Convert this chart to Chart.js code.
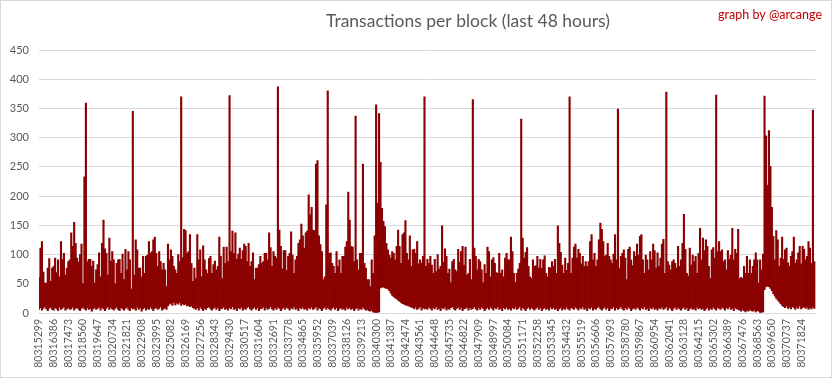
<!DOCTYPE html>
<html>
<head>
<meta charset="utf-8">
<script src="https://cdn.jsdelivr.net/npm/chart.js@4/dist/chart.umd.min.js"></script>
<style>
    html, body { margin: 0; padding: 0; background: #ffffff; }
    canvas { display: block; }
</style>
</head>
<body>
<canvas id="txChart" width="833" height="379"></canvas>
<script>
// block numbers shown under the axis (one every 1087 blocks)
const tickLabels = [
    "80315299", "80316386", "80317473", "80318560", "80319647", "80320734", "80321821", "80322908",
    "80323995", "80325082", "80326169", "80327256", "80328343", "80329430", "80330517", "80331604",
    "80332691", "80333778", "80334865", "80335952", "80337039", "80338126", "80339213", "80340300",
    "80341387", "80342474", "80343561", "80344648", "80345735", "80346822", "80347909", "80348997",
    "80350084", "80351171", "80352258", "80353345", "80354432", "80355519", "80356606", "80357693",
    "80358780", "80359867", "80360954", "80362041", "80363128", "80364215", "80365302", "80366389",
    "80367476", "80368563", "80369650", "80370737", "80371824"
];
const samplesPerTick = 10;

// highest tx count in each slice of ~109 blocks
const txHigh = [
    61, 111, 122, 70, 51, 51, 77, 93, 54, 77,
    80, 94, 69, 91, 62, 122, 92, 102, 65, 77,
    88, 91, 137, 114, 155, 119, 94, 87, 100, 118,
    50, 233, 359, 88, 92, 92, 80, 89, 51, 74,
    83, 103, 62, 119, 159, 110, 102, 65, 128, 89,
    105, 91, 50, 85, 91, 92, 68, 101, 57, 109,
    74, 105, 91, 41, 345, 65, 125, 108, 77, 77,
    62, 97, 68, 97, 99, 122, 102, 105, 125, 130,
    102, 80, 105, 88, 74, 85, 74, 45, 118, 91,
    108, 97, 80, 74, 68, 100, 88, 370, 95, 143,
    141, 102, 105, 134, 85, 54, 77, 59, 134, 91,
    108, 62, 115, 91, 74, 68, 93, 97, 68, 83,
    89, 74, 80, 130, 97, 59, 113, 85, 113, 88,
    372, 105, 140, 102, 137, 92, 101, 111, 92, 107,
    118, 114, 88, 119, 80, 88, 103, 57, 77, 77,
    83, 97, 85, 88, 102, 102, 91, 137, 112, 80,
    105, 97, 94, 387, 142, 114, 75, 107, 107, 73,
    97, 102, 139, 99, 68, 91, 97, 119, 125, 152,
    132, 111, 137, 140, 202, 168, 181, 142, 141, 255,
    261, 132, 117, 105, 57, 62, 185, 380, 102, 103,
    85, 80, 68, 105, 80, 91, 68, 97, 97, 113,
    122, 207, 159, 114, 113, 88, 337, 91, 74, 102,
    102, 255, 85, 77, 57, 57, 45, 91, 68, 132,
    356, 188, 341, 258, 179, 157, 148, 119, 108, 99,
    94, 105, 102, 91, 114, 142, 114, 85, 134, 137,
    158, 102, 91, 132, 80, 108, 109, 102, 122, 84,
    91, 85, 97, 370, 80, 92, 85, 97, 82, 68,
    92, 71, 100, 75, 80, 149, 87, 110, 97, 68,
    75, 52, 88, 92, 74, 71, 109, 87, 105, 114,
    82, 113, 65, 68, 92, 57, 365, 111, 97, 74,
    92, 88, 74, 52, 83, 68, 113, 105, 62, 91,
    95, 85, 69, 68, 102, 68, 74, 62, 94, 102,
    91, 91, 130, 105, 68, 52, 68, 75, 85, 332,
    128, 94, 104, 112, 80, 62, 59, 91, 80, 81,
    97, 77, 92, 77, 91, 98, 68, 62, 78, 77,
    88, 80, 92, 68, 149, 119, 104, 82, 68, 94,
    73, 85, 370, 68, 94, 113, 118, 94, 109, 102,
    84, 97, 80, 88, 80, 88, 122, 134, 91, 102,
    80, 91, 125, 154, 143, 122, 97, 99, 119, 97,
    91, 85, 101, 134, 91, 349, 77, 97, 102, 108,
    94, 57, 109, 113, 91, 81, 105, 97, 118, 99,
    131, 134, 91, 68, 99, 91, 74, 105, 91, 118,
    107, 77, 103, 80, 94, 118, 126, 68, 378, 88,
    82, 74, 88, 91, 85, 77, 114, 80, 91, 119,
    169, 109, 68, 63, 111, 82, 99, 88, 97, 68,
    102, 145, 91, 128, 107, 125, 114, 80, 59, 108,
    112, 94, 373, 105, 122, 105, 108, 88, 91, 74,
    107, 92, 99, 145, 91, 109, 102, 143, 59, 61,
    59, 80, 68, 97, 68, 91, 68, 80, 91, 103,
    91, 51, 91, 74, 101, 371, 303, 219, 312, 251,
    181, 131, 91, 141, 125, 80, 94, 130, 92, 108,
    111, 86, 80, 97, 105, 130, 85, 91, 103, 114,
    84, 114, 109, 91, 97, 122, 111, 85, 347, 88,
    102
];

// lowest tx count in the same slices
const txLow = [
    6, 9, 5, 8, 11, 7, 4, 8, 10, 6,
    5, 9, 7, 4, 10, 6, 8, 11, 5, 7,
    9, 6, 7, 10, 5, 8, 9, 6, 4, 8,
    10, 7, 5, 9, 6, 8, 3, 7, 9, 6,
    8, 10, 5, 9, 7, 4, 8, 11, 6, 9,
    7, 5, 8, 10, 6, 4, 9, 7, 5, 8,
    10, 6, 4, 9, 7, 8, 5, 10, 6, 9,
    3, 7, 9, 5, 8, 6, 10, 7, 4, 8,
    9, 6, 8, 11, 5, 7, 9, 6, 12, 15,
    17, 13, 18, 14, 17, 15, 18, 13, 16, 14,
    15, 12, 13, 11, 12, 9, 8, 6, 9, 5,
    10, 7, 4, 8, 6, 9, 11, 7, 5, 8,
    10, 6, 9, 4, 7, 8, 10, 6, 8, 5,
    9, 7, 11, 6, 8, 4, 9, 7, 10, 5,
    8, 6, 9, 11, 7, 5, 8, 10, 6, 9,
    4, 7, 8, 10, 5, 9, 6, 8, 11, 7,
    5, 9, 6, 10, 8, 4, 7, 9, 6, 10,
    8, 5, 9, 7, 11, 6, 8, 4, 9, 7,
    10, 6, 8, 5, 9, 7, 10, 6, 8, 11,
    5, 9, 7, 4, 8, 10, 6, 9, 7, 5,
    8, 10, 6, 9, 4, 7, 9, 6, 8, 5,
    10, 7, 9, 6, 8, 4, 7, 9, 5, 8,
    6, 10, 7, 5, 6, 4, 3, 5, 2, 1,
    0, 1, 2, 43, 44, 44, 43, 42, 41, 38,
    34, 30, 28, 26, 24, 22, 20, 18, 16, 15,
    14, 13, 12, 11, 10, 9, 7, 10, 6, 8,
    11, 5, 9, 7, 8, 6, 10, 8, 5, 9,
    7, 11, 6, 8, 4, 9, 7, 10, 5, 8,
    6, 9, 11, 7, 5, 8, 10, 6, 9, 4,
    7, 8, 10, 5, 9, 6, 8, 11, 7, 5,
    9, 6, 10, 8, 4, 7, 9, 6, 10, 8,
    5, 9, 7, 11, 6, 8, 4, 9, 7, 10,
    6, 8, 5, 9, 7, 10, 6, 8, 11, 5,
    9, 7, 4, 8, 10, 6, 9, 7, 5, 8,
    10, 6, 9, 4, 7, 9, 6, 8, 5, 10,
    7, 9, 6, 8, 4, 7, 9, 5, 8, 6,
    10, 7, 5, 9, 8, 6, 10, 8, 5, 9,
    7, 11, 6, 8, 4, 9, 7, 10, 5, 8,
    6, 9, 11, 7, 5, 8, 10, 6, 9, 4,
    7, 8, 10, 5, 9, 6, 8, 11, 7, 5,
    9, 6, 10, 8, 4, 7, 9, 6, 10, 8,
    5, 9, 7, 11, 6, 8, 4, 9, 7, 10,
    6, 8, 5, 9, 7, 10, 6, 8, 11, 5,
    9, 7, 4, 8, 10, 6, 9, 7, 5, 8,
    10, 6, 9, 4, 7, 9, 6, 8, 5, 10,
    7, 9, 6, 8, 4, 7, 9, 5, 8, 6,
    10, 7, 5, 9, 8, 6, 10, 8, 5, 9,
    7, 11, 6, 8, 4, 9, 7, 6, 5, 3,
    6, 4, 2, 5, 3, 6, 4, 3, 5, 2,
    4, 3, 1, 0, 2, 40, 45, 46, 45, 42,
    38, 33, 29, 25, 22, 19, 16, 13, 11, 9,
    12, 8, 10, 7, 11, 9, 6, 10, 8, 12,
    7, 9, 11, 8, 10, 6, 9, 7, 10, 8,
    9
];

const GREY = "#595959";
const LINE = "#d9d9d9";
const BAR_RED = "#8b0000";

let categories = [];
let bars = [];
for (let i = 0; i < txHigh.length; i++) {
    categories.push(i % samplesPerTick === 0 ? tickLabels[i / samplesPerTick] : "");
    bars.push([txLow[i], txHigh[i]]);
}

const textPlugin = {
    id: "chartTexts",
    afterDraw(chart) {
        const c = chart.ctx;
        c.save();
        c.strokeStyle = LINE;
        c.lineWidth = 1;
        c.strokeRect(0.5, 0.5, 831, 377);

        c.textBaseline = "middle";
        c.textAlign = "center";
        c.fillStyle = GREY;
        c.font = "17.5px Lato";
        c.fillText("Transactions per block (last 48 hours)", 468, 21);

        c.textAlign = "right";
        c.fillStyle = "#c00000";
        c.font = "12.5px Lato";
        c.fillText("graph by @arcange", 822, 15);
        c.restore();
    }
};

const txChart = new Chart(document.getElementById("txChart"), {
    type: "bar",
    data: {
        labels: categories,
        datasets: [{
            data: bars,
            backgroundColor: BAR_RED,
            borderWidth: 0,
            barPercentage: 1,
            categoryPercentage: 1
        }]
    },
    options: {
        responsive: false,
        animation: false,
        layout: {
            padding: {top: 50, right: 15, bottom: 0, left: 0}
        },
        plugins: {
            legend: {display: false},
            tooltip: {enabled: false}
        },
        scales: {
            x: {
                offset: false,
                grid: {display: false, drawTicks: false},
                border: {color: LINE},
                ticks: {
                    autoSkip: false,
                    minRotation: 90,
                    maxRotation: 90,
                    padding: 6,
                    color: GREY,
                    font: {family: "Lato", size: 10.5}
                },
                afterFit(scale) {
                    scale.height = 66;
                }
            },
            y: {
                min: 0,
                max: 450,
                grid: {color: LINE, drawTicks: false},
                border: {display: false},
                ticks: {
                    stepSize: 50,
                    padding: 10,
                    color: GREY,
                    font: {family: "Lato", size: 11}
                },
                afterFit(scale) {
                    scale.width = 39;
                }
            }
        }
    },
    plugins: [textPlugin]
});
</script>
</body>
</html>
